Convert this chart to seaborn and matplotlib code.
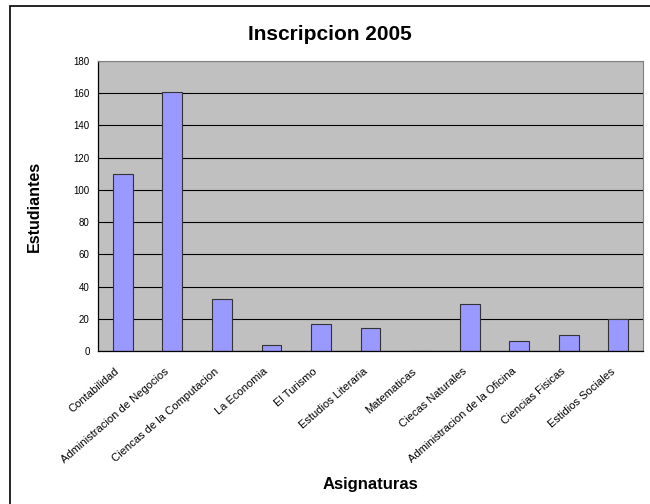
import matplotlib
matplotlib.use("Agg")
import matplotlib.pyplot as plt
import matplotlib.transforms as mtransforms
import seaborn as sns
import pandas as pd
from matplotlib.patches import Rectangle

# datos
asignaturas = ["Contabilidad", "Administracion de Negocios", "Ciencas de la Computacion",
               "La Economia", "El Turismo", "Estudios Literaria", "Matematicas",
               "Ciecas Naturales", "Administracion de la Oficina", "Ciencias Fisicas",
               "Estidios Sociales"]
estudiantes = [110, 161, 32, 4, 17, 14, 0, 29, 6, 10, 20]

df = pd.DataFrame({"asignatura": asignaturas, "estudiantes": estudiantes})

sns.set_style("white")
plt.rcParams["font.family"] = ["Liberation Sans", "DejaVu Sans"]
plt.rcParams["text.color"] = "black"
plt.rcParams["axes.labelcolor"] = "black"
plt.rcParams["xtick.color"] = "black"
plt.rcParams["ytick.color"] = "black"

fig = plt.figure(figsize=(6.5, 5.04), dpi=100)
ax = fig.add_axes([98 / 650, 1 - 351 / 504, (643 - 98) / 650, (351 - 61) / 504])

sns.barplot(data=df, x="asignatura", y="estudiantes", color="#9999FF",
            saturation=1, width=0.4, edgecolor="#333333", linewidth=0.8, ax=ax)

ax.set_facecolor("#C0C0C0")
ax.set_ylim(0, 180)
ax.set_xlim(-0.5, len(asignaturas) - 0.5)
ax.set_yticks(range(0, 181, 20))
ax.yaxis.grid(True, color="black", linewidth=0.8)
ax.set_axisbelow(True)

# marcas entre categorias, estilo Excel
ax.set_xticks([i - 0.5 for i in range(len(asignaturas) + 1)], minor=True)
ax.tick_params(axis="x", which="major", length=0, pad=11)
ax.tick_params(axis="x", which="minor", length=4, width=0.8, color="black", direction="out")
ax.tick_params(axis="y", length=4, width=0.8, color="black", direction="out", labelsize=7, pad=2)
ax.set_xticks(range(len(asignaturas)))
ax.set_xticklabels(asignaturas, rotation=41, ha="right", rotation_mode="anchor", fontsize=8)
desplaza = mtransforms.ScaledTranslation(-8 / 100, 0, fig.dpi_scale_trans)
for lab in ax.get_xticklabels():
    lab.set_transform(lab.get_transform() + desplaza)

for side in ["left", "bottom"]:
    ax.spines[side].set_color("black")
    ax.spines[side].set_linewidth(0.9)
ax.spines["right"].set_color("#808080")
ax.spines["top"].set_color("#808080")

ax.set_xlabel("Asignaturas", fontsize=12, fontweight="bold")
ax.xaxis.set_label_coords(0.5, -(477 - 351) / 290)
ax.set_ylabel("Estudiantes", fontsize=11.5, fontweight="bold")
ax.yaxis.set_label_coords(-(98 - 42) / 545, 0.5)
fig.text(330 / 650, 1 - 34 / 504, "Inscripcion 2005", fontsize=15,
         fontweight="bold", ha="center", va="center")

# borde del area del grafico
fig.patches.append(Rectangle((10 / 650, -0.1), 1.2, 1.1 - 6 / 504,
                             transform=fig.transFigure, fill=False,
                             edgecolor="black", linewidth=1.2))

fig.savefig("out.png", dpi=100, facecolor="white")
